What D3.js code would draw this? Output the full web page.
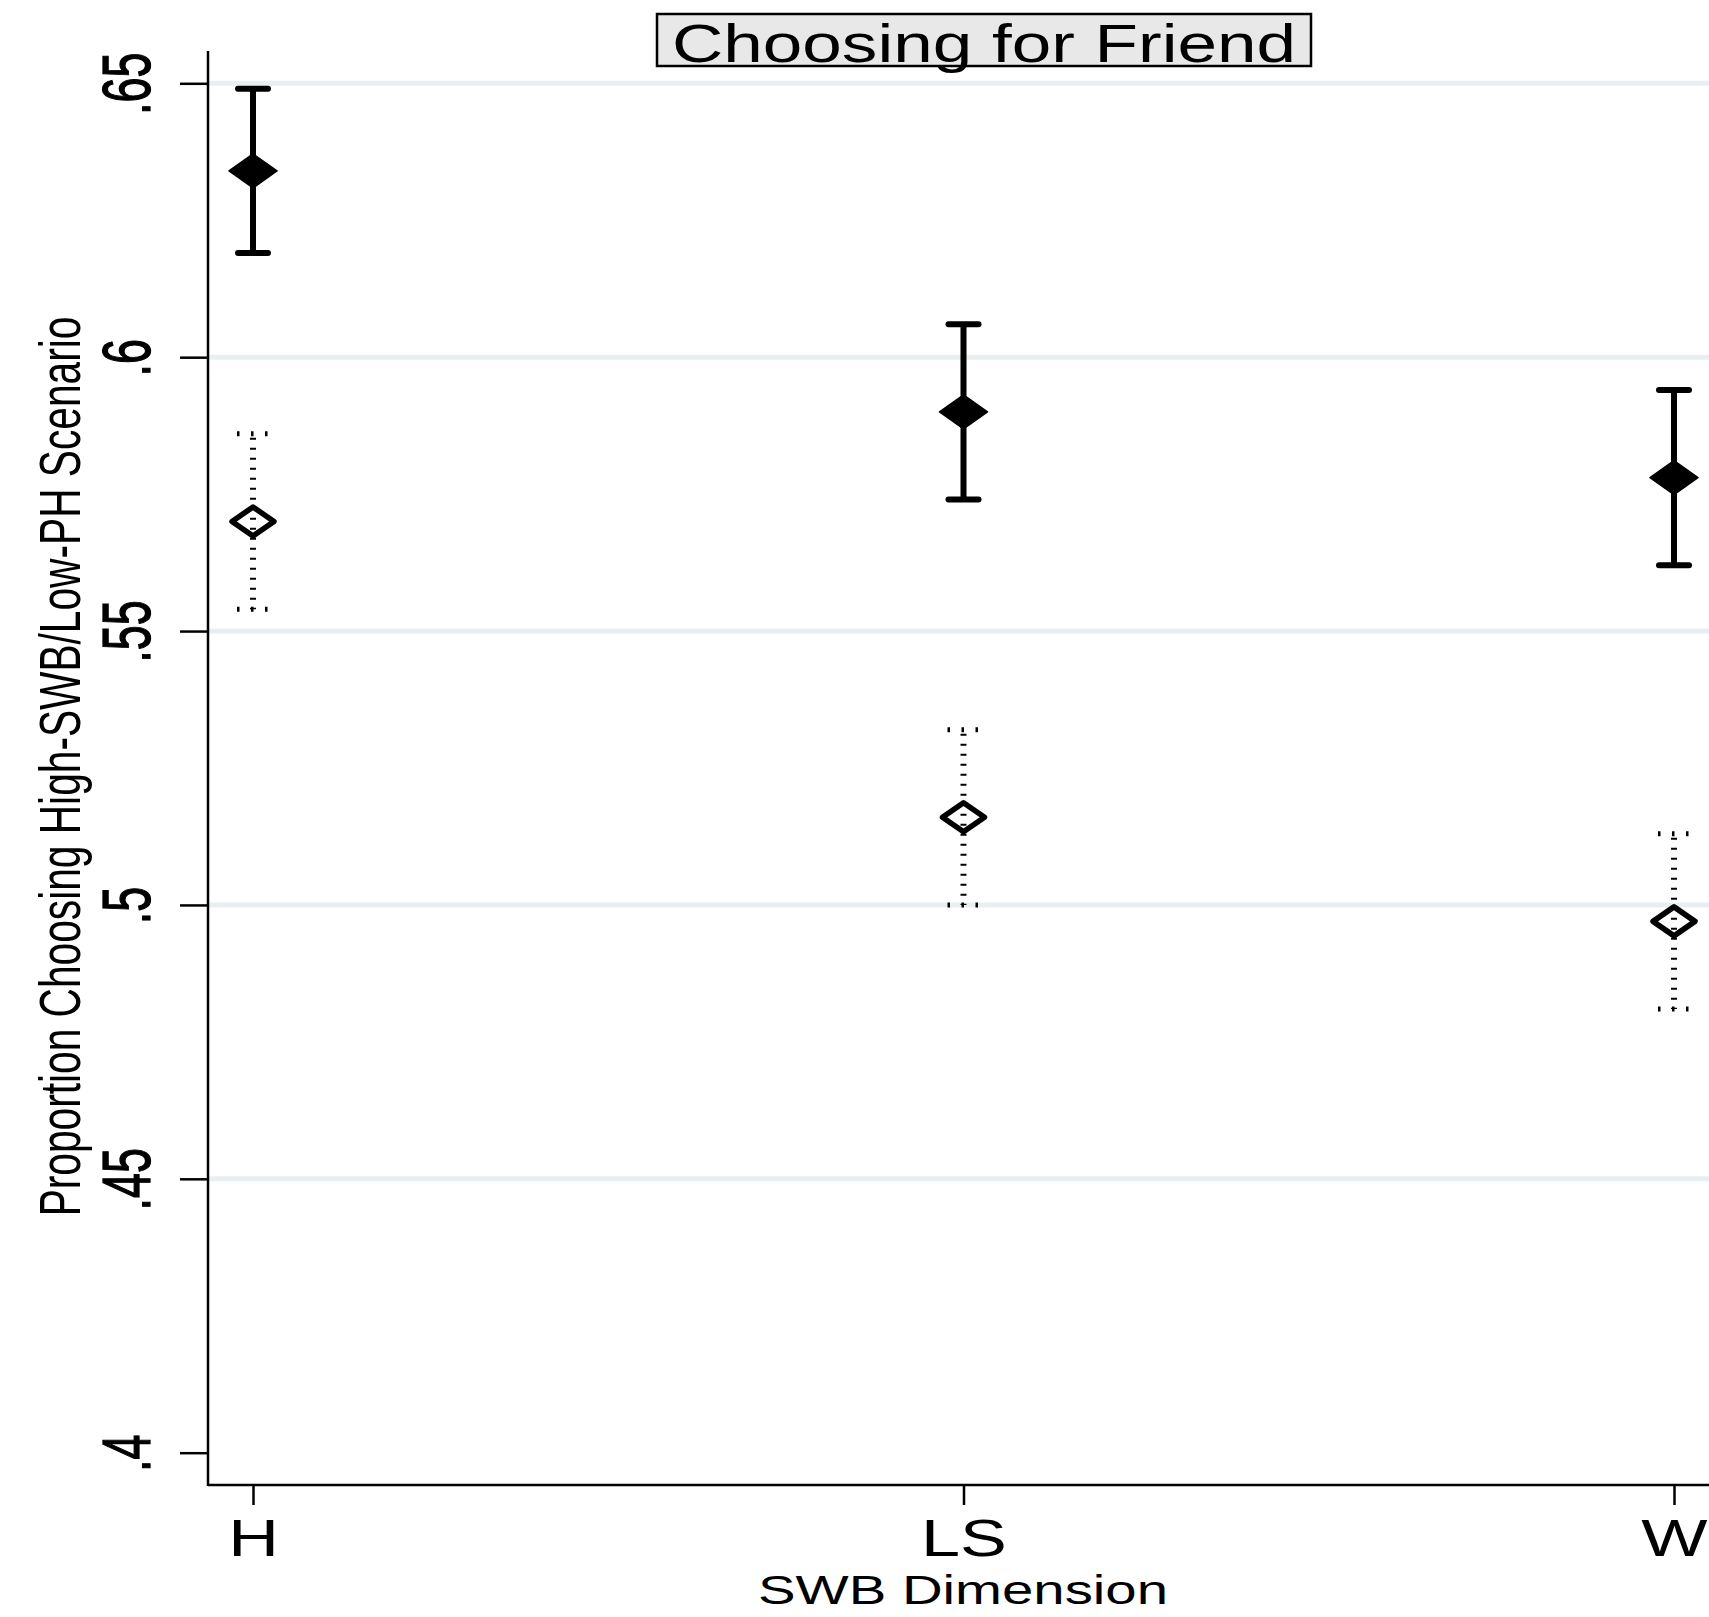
<!DOCTYPE html>
<html lang="en">
	<head>
		<meta charset="utf-8">
		<title>Choosing for Friend</title>
		<script type="text/javascript" src="https://cdn.jsdelivr.net/npm/d3@7"></script>
		<style type="text/css">
		body { margin: 0; background: #fff; }
		text { font-family: "Liberation Sans", Arial, sans-serif; fill: #000; }
		</style>
	</head>
	<body>
		<script type="text/javascript">

		//Width and height
		var w = 1709;
		var h = 1617;

		//Data
		var categories = ["H", "LS", "W"];
		var yTicks = [0.4, 0.45, 0.5, 0.55, 0.6, 0.65];

		//filled diamonds, solid bars
		var filledMean = [0.634, 0.590, 0.578];
		var filledLow  = [0.619, 0.574, 0.562];
		var filledHigh = [0.649, 0.606, 0.594];

		//hollow diamonds, dotted bars
		var hollowMean = [0.570, 0.516, 0.497];
		var hollowLow  = [0.554, 0.500, 0.481];
		var hollowHigh = [0.586, 0.532, 0.513];

		//plot region
		var plotLeft = 208, plotTop = 51, plotBottom = 1485;

		var x = d3.scalePoint().domain(categories).range([253, 1674]);
		var y = d3.scaleLinear().domain([0.4, 0.65]).range([1452.7, 83.3]);

		var svg = d3.select("body")
					.append("svg")
					.attr("width", w)
					.attr("height", h);

		//gridlines (none at the bottom tick)
		svg.selectAll("line.grid")
			.data(yTicks.filter(function(d) { return d > 0.4; }))
			.enter()
			.append("line")
			.attr("class", "grid")
			.attr("x1", plotLeft)
			.attr("x2", w)
			.attr("y1", function(d) { return y(d); })
			.attr("y2", function(d) { return y(d); })
			.style("stroke", "#e8eff1")
			.style("stroke-width", 5);

		//y axis
		var fmt = function(d) { return d3.format(".2~f")(d).replace(/^0/, ""); };
		var yAxis = svg.append("g")
			.attr("transform", "translate(" + plotLeft + ",0)")
			.call(d3.axisLeft(y).tickValues(yTicks).tickSize(28).tickFormat(fmt));
		yAxis.select(".domain").remove();
		yAxis.selectAll(".tick line").style("stroke", "#000").style("stroke-width", 2.5);
		yAxis.selectAll(".tick text")
			.attr("x", null)
			.attr("dy", null)
			.attr("text-anchor", "middle")
			.attr("transform", "translate(-58,0) rotate(-90) scale(0.66,1)")
			.style("font-size", "68px")
			.style("stroke", "#000")
			.style("stroke-width", 1.3)
			.style("font-family", "'Liberation Sans', Arial, sans-serif");

		//x axis
		var xAxis = svg.append("g")
			.attr("transform", "translate(0," + plotBottom + ")")
			.call(d3.axisBottom(x).tickSize(20));
		xAxis.select(".domain").remove();
		xAxis.selectAll(".tick line").style("stroke", "#000").style("stroke-width", 2.5);
		xAxis.selectAll(".tick text")
			.attr("y", 71)
			.attr("dy", null)
			.attr("transform", "scale(1.35,1)")
			.style("font-size", "52px")
			.style("font-family", "'Liberation Sans', Arial, sans-serif");

		//axis lines
		svg.append("line")
			.attr("x1", plotLeft).attr("x2", plotLeft)
			.attr("y1", plotTop).attr("y2", plotBottom + 1)
			.style("stroke", "#000").style("stroke-width", 2.5);
		svg.append("line")
			.attr("x1", plotLeft).attr("x2", w)
			.attr("y1", plotBottom).attr("y2", plotBottom)
			.style("stroke", "#000").style("stroke-width", 2.5);

		function diamond(cx, cy, rx, ry) {
			return "M" + (cx - rx) + "," + cy + "L" + cx + "," + (cy - ry) +
				"L" + (cx + rx) + "," + cy + "L" + cx + "," + (cy + ry) + "Z";
		}

		//hollow series: dotted bars
		var hollow = svg.append("g");
		categories.forEach(function(c, i) {
			var cx = x(c);
			hollow.append("line")
				.attr("x1", cx).attr("x2", cx)
				.attr("y1", y(hollowHigh[i]) + 4).attr("y2", y(hollowLow[i]))
				.style("stroke", "#000").style("stroke-width", 6)
				.style("stroke-dasharray", "2,8");
			[hollowHigh[i], hollowLow[i]].forEach(function(v) {
				hollow.append("line")
					.attr("x1", cx - 16).attr("x2", cx + 15)
					.attr("y1", y(v)).attr("y2", y(v))
					.style("stroke", "#000").style("stroke-width", 5)
					.style("stroke-dasharray", "2.5,11.5");
			});
			hollow.append("path")
				.attr("d", diamond(cx, y(hollowMean[i]), 21, 14.5))
				.style("fill", "none")
				.style("stroke", "#000")
				.style("stroke-width", 5.5)
				.style("stroke-linejoin", "round");
		});

		//filled series: solid bars
		var filled = svg.append("g");
		categories.forEach(function(c, i) {
			var cx = x(c);
			filled.append("line")
				.attr("x1", cx).attr("x2", cx)
				.attr("y1", y(filledHigh[i])).attr("y2", y(filledLow[i]))
				.style("stroke", "#000").style("stroke-width", 6);
			[filledHigh[i], filledLow[i]].forEach(function(v) {
				filled.append("line")
					.attr("x1", cx - 15).attr("x2", cx + 15)
					.attr("y1", y(v)).attr("y2", y(v))
					.style("stroke", "#000").style("stroke-width", 6)
					.style("stroke-linecap", "round");
			});
			filled.append("path")
				.attr("d", diamond(cx, y(filledMean[i]), 24, 17))
				.style("fill", "#000")
				.style("stroke", "#000")
				.style("stroke-width", 1.5)
				.style("stroke-linejoin", "round");
		});

		//y axis title, squeezed along its length to 900px
		var yTitle = svg.append("text")
			.attr("text-anchor", "middle")
			.style("font-size", "58px")
			.text("Proportion Choosing High-SWB/Low-PH Scenario");
		var yTitleLen = yTitle.node().getComputedTextLength();
		yTitle.attr("transform", "translate(79.5,766.5) rotate(-90) scale(" + (900 / yTitleLen) + ",1)");

		//x axis title
		svg.append("text")
			.attr("x", 963)
			.attr("y", 1604)
			.attr("text-anchor", "middle")
			.attr("textLength", 410)
			.attr("lengthAdjust", "spacingAndGlyphs")
			.style("font-size", "40.5px")
			.text("SWB Dimension");

		//title box
		svg.append("rect")
			.attr("x", 657)
			.attr("y", 14)
			.attr("width", 654)
			.attr("height", 52)
			.style("fill", "#e8e8e8")
			.style("stroke", "#000")
			.style("stroke-width", 2.5);
		svg.append("text")
			.attr("x", 984)
			.attr("y", 61.5)
			.attr("text-anchor", "middle")
			.attr("textLength", 624)
			.attr("lengthAdjust", "spacingAndGlyphs")
			.style("font-size", "53px")
			.text("Choosing for Friend");

		</script>
	</body>
</html>
